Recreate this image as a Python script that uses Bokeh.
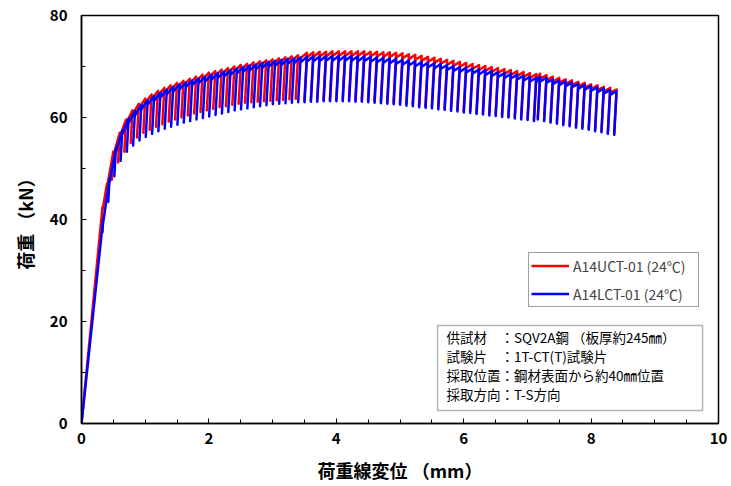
import math
from bokeh.plotting import figure
from bokeh.models import Range1d, Legend, LegendItem, Label, BoxAnnotation, SingleIntervalTicker, Title
from bokeh.embed import file_html
from bokeh.resources import INLINE

# ---------------- data ----------------
# Peak (start of unloading) displacement [mm], peak load [kN], unloaded load [kN]
red_disp = [0.33, 0.40, 0.50, 0.60, 0.70, 0.80, 0.90, 1.00, 1.10, 1.20, 1.30, 1.40, 1.50, 1.60,
            1.70, 1.80, 1.90, 2.00, 2.10, 2.20, 2.30, 2.40, 2.50, 2.60, 2.70, 2.80, 2.90, 3.00,
            3.10, 3.20, 3.30, 3.40,
            3.54, 3.64, 3.74, 3.84, 3.94, 4.04, 4.14, 4.24, 4.34, 4.44, 4.54, 4.64, 4.74, 4.84,
            4.94, 5.04, 5.14, 5.24, 5.34, 5.44, 5.54, 5.64, 5.74, 5.84, 5.94, 6.04, 6.14, 6.24,
            6.34, 6.44, 6.54, 6.64, 6.74, 6.84, 6.94, 7.04, 7.14, 7.20, 7.30, 7.40, 7.50, 7.60,
            7.70, 7.80, 7.90, 8.00, 8.10, 8.20, 8.30, 8.40]
red_peak = [42.5, 47.0, 53.3, 57.0, 59.6, 61.4, 62.7, 63.7, 64.5, 65.2, 65.8, 66.3, 66.8, 67.2,
            67.6, 68.0, 68.4, 68.8, 69.1, 69.4, 69.7, 70.0, 70.3, 70.5, 70.8, 71.0, 71.2, 71.4,
            71.6, 71.8, 72.0, 72.2,
            72.7, 72.8, 72.9, 72.9, 73.0, 73.0, 73.0, 73.0, 73.0, 73.0, 72.9, 72.9, 72.8, 72.8,
            72.7, 72.6, 72.4, 72.3, 72.1, 71.9, 71.7, 71.5, 71.3, 71.1, 70.9, 70.7, 70.5, 70.3,
            70.1, 69.9, 69.7, 69.5, 69.3, 69.1, 68.9, 68.7, 68.5, 68.6, 68.3, 68.0, 67.8, 67.5,
            67.3, 67.0, 66.8, 66.5, 66.3, 66.0, 65.8, 65.5]
red_valley = [40.5, 43.5, 47.8, 51.2, 53.3, 55.0, 56.1, 57.0, 57.6, 58.2, 58.7, 59.2, 59.6, 60.0,
              60.4, 60.8, 61.1, 61.4, 61.7, 62.0, 62.2, 62.5, 62.7, 62.9, 63.0, 63.1, 63.2, 63.3,
              63.4, 63.5, 63.6, 63.7,
              63.3, 63.4, 63.4, 63.5, 63.5, 63.5, 63.5, 63.5, 63.4, 63.4, 63.3, 63.2, 63.1, 63.0,
              62.9, 62.8, 62.6, 62.5, 62.3, 62.2, 62.1, 61.9, 61.8, 61.6, 61.5, 61.3, 61.2, 61.0,
              60.9, 60.7, 60.6, 60.4, 60.3, 60.1, 59.9, 59.8, 59.6, 59.9, 59.6, 59.3, 59.1, 58.8,
              58.6, 58.3, 58.1, 57.9, 57.6, 57.4, 57.1, 56.9]

blue_disp = [0.34, 0.44, 0.54, 0.64, 0.74, 0.84, 0.94, 1.04, 1.14, 1.24, 1.34, 1.44, 1.54, 1.64,
             1.74, 1.84, 1.94, 2.04, 2.14, 2.24, 2.34, 2.44, 2.54, 2.64, 2.74, 2.84, 2.94, 3.04,
             3.14, 3.24, 3.34, 3.44, 3.54, 3.64, 3.74, 3.84, 3.94, 4.04, 4.14, 4.24, 4.34, 4.44,
             4.54, 4.64, 4.74, 4.84, 4.94, 5.04, 5.14, 5.24, 5.34, 5.44, 5.54, 5.64, 5.74, 5.84,
             5.94, 6.04, 6.14, 6.24, 6.34, 6.44, 6.54, 6.64, 6.74, 6.84, 6.94, 7.04, 7.14, 7.20,
             7.30, 7.40, 7.50, 7.60, 7.70, 7.80, 7.90, 8.00, 8.10, 8.20, 8.30, 8.40]
blue_peak = [40.0, 48.0, 54.0, 57.5, 59.8, 61.3, 62.5, 63.4, 64.2, 64.9, 65.5, 66.0, 66.5, 66.9,
             67.3, 67.7, 68.0, 68.4, 68.7, 69.0, 69.3, 69.6, 69.9, 70.2, 70.4, 70.7, 70.9, 71.1,
             71.3, 71.5, 71.6, 71.8, 71.9, 72.0, 72.0, 72.1, 72.1, 72.1, 72.1, 72.1, 72.0, 72.0,
             71.9, 71.8, 71.7, 71.6, 71.5, 71.3, 71.2, 71.0, 70.9, 70.8, 70.6, 70.5, 70.3, 70.1,
             69.9, 69.8, 69.6, 69.4, 69.3, 69.1, 68.9, 68.7, 68.6, 68.4, 68.2, 68.0, 67.8, 68.0,
             67.8, 67.5, 67.3, 67.1, 66.9, 66.6, 66.4, 66.2, 65.9, 65.7, 65.4, 65.2]
blue_valley = [37.5, 43.5, 48.5, 51.5, 53.3, 54.5, 55.5, 56.2, 56.8, 57.3, 57.8, 58.2, 58.6, 59.0,
               59.3, 59.6, 59.9, 60.2, 60.5, 60.8, 61.1, 61.4, 61.6, 61.8, 62.0, 62.2, 62.4, 62.6,
               62.7, 62.8, 62.9, 63.0, 63.0, 63.1, 63.1, 63.2, 63.2, 63.2, 63.2, 63.2, 63.1, 63.1,
               63.0, 62.9, 62.8, 62.7, 62.6, 62.5, 62.3, 62.2, 62.0, 61.9, 61.8, 61.6, 61.5, 61.3,
               61.2, 61.0, 60.9, 60.7, 60.6, 60.4, 60.3, 60.1, 60.0, 59.8, 59.6, 59.5, 59.3, 59.6,
               59.3, 59.0, 58.8, 58.5, 58.3, 58.0, 57.8, 57.6, 57.3, 57.1, 56.8, 56.6]

unload_stiffness = 230.0   # kN/mm, elastic unloading slope
reload_shortfall = 1.0     # kN, reloading ends this far below the previous peak

series_labels = ["A14UCT-01 (24℃)", "A14LCT-01 (24℃)"]
x_title = "荷重線変位 （mm）"
y_title = "荷重 （kN）"
info_lines = ["供試材　：SQV2A鋼 （板厚約245㎜）",
              "試験片　：1T-CT(T)試験片",
              "採取位置：鋼材表面から約40㎜位置",
              "採取方向：T-S方向"]

FONT = "Noto Sans CJK JP"


def cycle_path(disp, peak, valley):
    xs, ys = [0.0], [0.0]
    for d, pk, v in zip(disp, peak, valley):
        xv = d - (pk - v) / unload_stiffness
        xr = d - reload_shortfall / unload_stiffness
        xs += [d, xv, xr]
        ys += [pk, v, pk - reload_shortfall]
    return xs, ys


p = figure(width=731, height=486, x_range=Range1d(0, 10), y_range=Range1d(0, 80),
           output_backend="svg", toolbar_location=None,
           min_border_left=81, min_border_right=13, min_border_top=15, min_border_bottom=63)
p.background_fill_color = "white"
p.border_fill_color = "white"
p.grid.visible = False
p.outline_line_color = "black"
p.outline_line_width = 1.5

p.xaxis.ticker = SingleIntervalTicker(interval=2, num_minor_ticks=4)
p.yaxis.ticker = SingleIntervalTicker(interval=20, num_minor_ticks=2)
for ax in (p.xaxis[0], p.yaxis[0]):
    ax.axis_line_width = 1.5
    ax.axis_line_color = "black"
    ax.major_tick_in = 5
    ax.major_tick_out = 0
    ax.minor_tick_in = 4
    ax.minor_tick_out = 0
    ax.major_tick_line_color = "black"
    ax.minor_tick_line_color = "black"
    ax.major_label_text_font = FONT
    ax.major_label_text_font_style = "bold"
    ax.major_label_text_font_size = "15px"
    ax.major_label_text_color = "black"
p.xaxis.major_label_standoff = 9
p.yaxis.major_label_standoff = 14

p.xaxis.axis_label = x_title
p.xaxis.axis_label_text_font = FONT
p.xaxis.axis_label_text_font_size = "18px"
p.xaxis.axis_label_text_font_style = "bold"
p.xaxis.axis_label_text_color = "black"
p.xaxis.axis_label_standoff = 10

ytitle = Title(text=y_title, align="center", offset=28, standoff=17,
               text_font=FONT, text_font_size="18px", text_font_style="bold", text_color="black")
p.add_layout(ytitle, "left")

rx, ry = cycle_path(red_disp, red_peak, red_valley)
bx, by = cycle_path(blue_disp, blue_peak, blue_valley)
r_red = p.line(rx, ry, line_color="#FF0000", line_width=2.5, line_join="round")
r_blue = p.line(bx, by, line_color="#0000FF", line_width=2.5, line_join="round")

legend = Legend(items=[LegendItem(label=series_labels[0], renderers=[r_red]),
                       LegendItem(label=series_labels[1], renderers=[r_blue])],
                location=(447, 116), orientation="vertical")
legend.padding = 2
legend.spacing = 7
legend.margin = 0
legend.glyph_width = 38
legend.glyph_height = 21
legend.label_standoff = 4
legend.label_width = 123
legend.label_text_font = FONT
legend.label_text_font_size = "14px"
legend.border_line_color = "#404040"
legend.border_line_width = 1
legend.background_fill_color = "white"
legend.background_fill_alpha = 1
p.add_layout(legend)

box = BoxAnnotation(left=5.59, right=9.75, bottom=2.55, top=19.2,
                    fill_color="white", fill_alpha=1, line_color="black", line_width=1.5)
p.add_layout(box)
info_y = [16.9, 13.2, 9.5, 5.8]
for txt, yy in zip(info_lines, info_y):
    p.add_layout(Label(x=5.73, y=yy, text=txt, text_font=FONT, text_font_size="13.5px",
                       text_baseline="middle", text_align="left", text_color="black"))

open("out.html", "w").write(file_html(p, INLINE))
